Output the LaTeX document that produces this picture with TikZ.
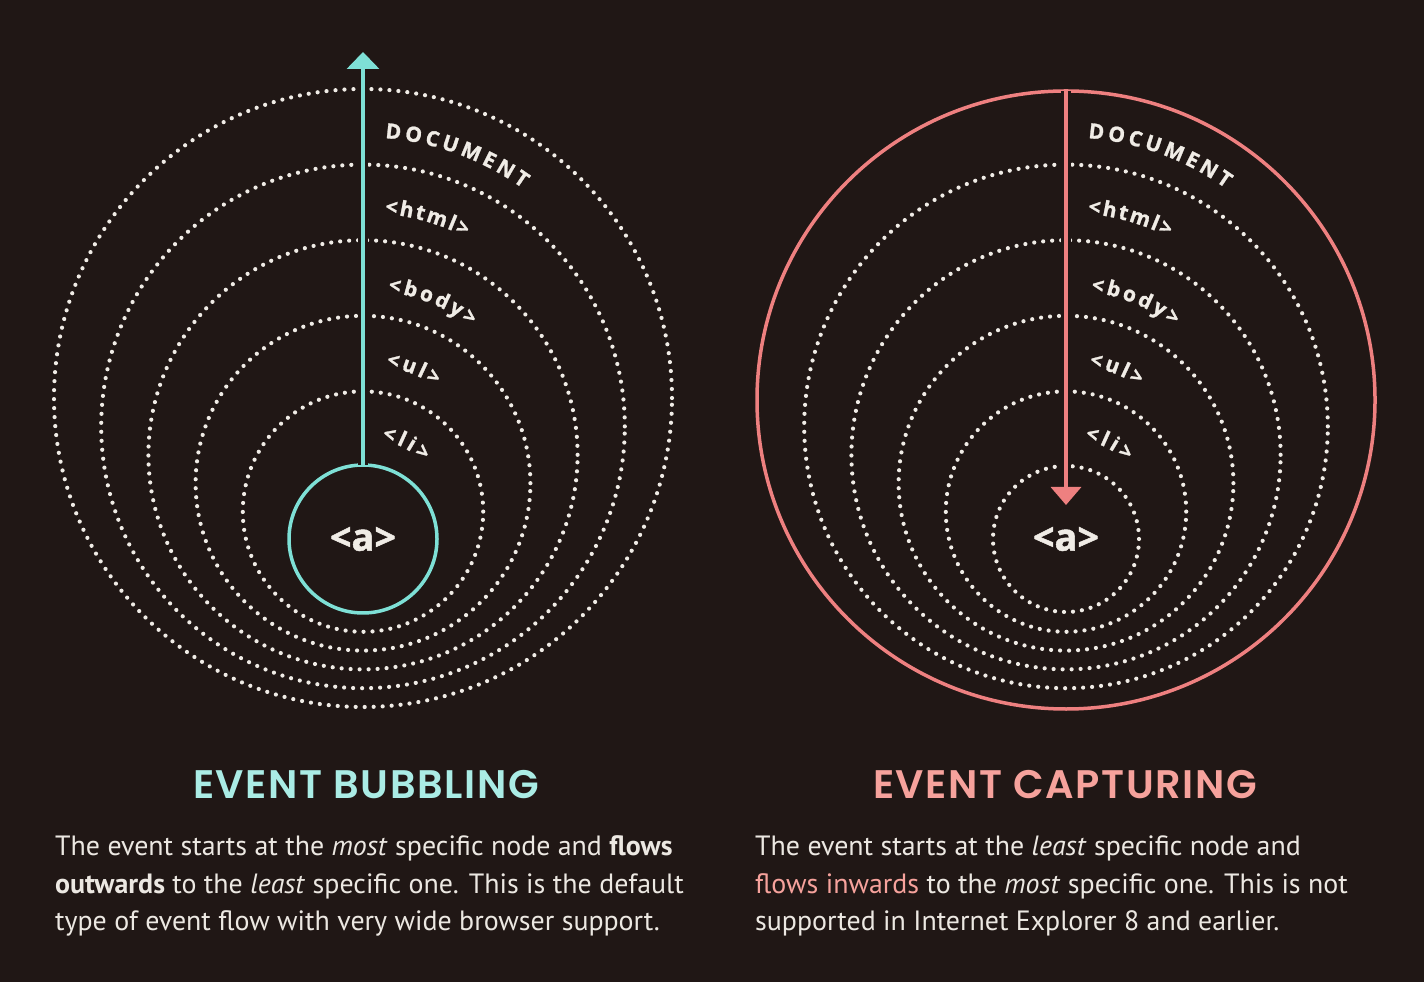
\documentclass[tikz,border=0pt]{standalone}
\usepackage{fontspec}
\setmainfont{PT Sans}
\newfontfamily\headfont{Poppins}[UprightFont={* Medium},BoldFont={* SemiBold},LetterSpace=4]
\newfontfamily\lblfamily{Open Sans}[BoldFeatures={FakeBold=1.3}]
\usetikzlibrary{arrows.meta,decorations.text}
\definecolor{bg}{RGB}{32,23,21}
\definecolor{cyanc}{RGB}{126,224,214}
\definecolor{cyanh}{RGB}{170,236,229}
\definecolor{pinkc}{RGB}{238,128,128}
\definecolor{pinkh}{RGB}{246,162,156}
\definecolor{dotc}{RGB}{240,236,230}
\definecolor{txt}{RGB}{236,232,226}
\newcommand\lblfont{\lblfamily\bfseries\fontsize{21}{21}\selectfont\color{dotc}}
\newcommand\ArcLbl[6]{\path[lbl={#6}] ([shift={(#4:#3bp)}]#1,#2) arc[start angle=#4,end angle=#5,radius=#3bp];}
\tikzset{
  ring/.style={circle, draw=dotc, line width=4.2bp, dash pattern=on 0bp off 9bp, line cap=round, inner sep=0pt, outer sep=0pt},
  solidring/.style={circle, line width=3.5bp, inner sep=0pt, outer sep=0pt},
  atext/.style={font=\lblfamily\bfseries\fontsize{38}{38}\selectfont, text=dotc},
  lbl/.style={decorate, decoration={text along path, text align=fit to path, text={|\lblfont|#1}}},
  halo/.style={draw=bg, line width=10bp},
  head/.style={anchor=base, font=\headfont\bfseries\fontsize{40}{40}\selectfont},
  body/.style={anchor=base west, inner sep=0pt, font=\fontsize{28}{30}\selectfont, text=txt},
}
\begin{document}
\begin{tikzpicture}[x=1bp,y=1bp]
\fill[bg] (0,0) rectangle (1424,982);
\useasboundingbox (0,0) rectangle (1424,982);
% ---------- left: bubbling ----------
\node[ring, minimum size=618bp] (docL) at (363,584) {};
\node[ring, minimum size=523.6bp] (htmlL) at (363,555.6) {};
\node[ring, minimum size=429.2bp] (bodyL) at (363,527.2) {};
\node[ring, minimum size=334.8bp] (ulL) at (363,498.8) {};
\node[ring, minimum size=240.4bp] (liL) at (363,470.4) {};
\node[solidring, draw=cyanc, minimum size=148bp, atext] (aL) at (363,443) {<a>};
\coordinate (tipL) at (363,930);
\path[halo] (aL.north) -- (tipL);
\draw[cyanc, line width=3.5bp, -{Triangle[width=32bp,length=17bp]}] (aL.north) -- (tipL);
\ArcLbl{363}{569.8}{275}{85.4}{54.5}{DOCUMENT}
\ArcLbl{363}{541.4}{228}{84.5}{63.3}{<html>}
\ArcLbl{363}{513}{179}{82}{53}{<body>}
\ArcLbl{363}{484.6}{133}{80}{57}{<ul>}
\ArcLbl{363}{456.2}{88}{77.7}{47}{<li>}
% ---------- right: capturing ----------
\node[solidring, draw=pinkc, minimum size=618bp] (docR) at (1066,582) {};
\node[ring, minimum size=523.6bp] (htmlR) at (1066,555.6) {};
\node[ring, minimum size=429.2bp] (bodyR) at (1066,527.2) {};
\node[ring, minimum size=334.8bp] (ulR) at (1066,498.8) {};
\node[ring, minimum size=240.4bp] (liR) at (1066,470.4) {};
\node[ring, minimum size=146bp, atext] (aR) at (1066,443) {<a>};
\coordinate (tipR) at (1066,477);
\path[halo] (docR.north) -- (tipR);
\draw[pinkc, line width=3.5bp, -{Triangle[width=30bp,length=18bp]}] (docR.north) -- (tipR);
\ArcLbl{1066}{569.8}{275}{85.4}{54.5}{DOCUMENT}
\ArcLbl{1066}{541.4}{228}{84.5}{63.3}{<html>}
\ArcLbl{1066}{513}{179}{82}{53}{<body>}
\ArcLbl{1066}{484.6}{133}{80}{57}{<ul>}
\ArcLbl{1066}{456.2}{88}{77.7}{47}{<li>}
% ---------- captions ----------
\node[head, text=cyanh] (hL) at (366,184) {EVENT BUBBLING};
\node[head, text=pinkh] (hR) at (1065,184) {EVENT CAPTURING};
\node[body] (l1) at (55,127) {The event starts at the \textit{most} specific node and \textbf{flows}};
\node[body] (l2) at (55,89) {\textbf{outwards} to the \textit{least} specific one. This is the default};
\node[body] (l3) at (55,52) {type of event flow with very wide browser support.};
\node[body] (r1) at (755,127) {The event starts at the \textit{least} specific node and};
\node[body] (r2) at (755,89) {{\color{pinkh}flows inwards} to the \textit{most} specific one. This is not};
\node[body] (r3) at (755,52) {supported in Internet Explorer 8 and earlier.};
\end{tikzpicture}
\end{document}
